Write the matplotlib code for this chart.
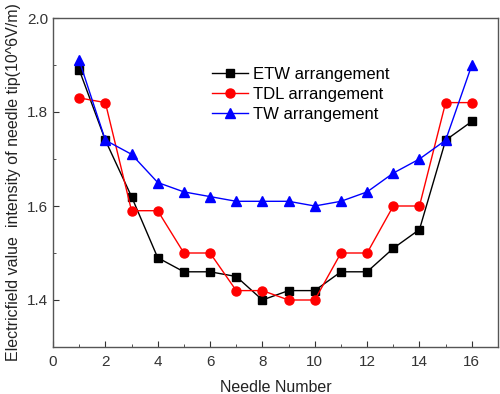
import matplotlib
matplotlib.use("Agg")
import matplotlib.pyplot as plt
from matplotlib.ticker import MultipleLocator

plt.rcParams['font.family'] = ['Liberation Sans', 'DejaVu Sans']

needle = list(range(1, 17))
etw = [1.89, 1.74, 1.62, 1.49, 1.46, 1.46, 1.45, 1.40, 1.42, 1.42, 1.46, 1.46, 1.51, 1.55, 1.74, 1.78]
tdl = [1.83, 1.82, 1.59, 1.59, 1.50, 1.50, 1.42, 1.42, 1.40, 1.40, 1.50, 1.50, 1.60, 1.60, 1.82, 1.82]
tw = [1.91, 1.74, 1.71, 1.65, 1.63, 1.62, 1.61, 1.61, 1.61, 1.60, 1.61, 1.63, 1.67, 1.70, 1.74, 1.90]

fig = plt.figure(figsize=(5, 3.94), dpi=100)
ax = fig.add_axes([53/500, 1-347/394, (498-53)/500, (347-18)/394])

ax.plot(needle, etw, color='black', marker='s', markersize=6, linewidth=1, label='ETW arrangement')
ax.plot(needle, tdl, color='red', marker='o', markersize=6.5, linewidth=1, label='TDL arrangement')
ax.plot(needle, tw, color='blue', marker='^', markersize=7, linewidth=1, label='TW arrangement')

ax.set_xlim(0, 17)
ax.set_ylim(1.3, 2.0)
ax.xaxis.set_major_locator(MultipleLocator(2))
ax.xaxis.set_minor_locator(MultipleLocator(1))
ax.yaxis.set_major_locator(MultipleLocator(0.2))
ax.yaxis.set_minor_locator(MultipleLocator(0.1))
ax.tick_params(which='both', direction='in', top=False, right=False, labelsize=11, colors='#333333')
ax.tick_params(which='major', length=4)
ax.tick_params(which='minor', length=2.5)
ax.tick_params(axis='x', pad=6)
for s in ax.spines.values():
    s.set_color('#555555')
    s.set_linewidth(1)

ax.set_xlabel('Needle Number', fontsize=11.5, color='#222222', labelpad=8)
ax.set_ylabel('Electricfield value  intensity of needle tip(10^6V/m)', fontsize=11.5, color='#222222')

ax.legend(loc='upper left', bbox_to_anchor=(0.33, 0.888), frameon=False, fontsize=12,
          handlelength=2.2, handletextpad=0.3, labelspacing=0.32, borderpad=0.2)

fig.savefig('out.png', dpi=100)
